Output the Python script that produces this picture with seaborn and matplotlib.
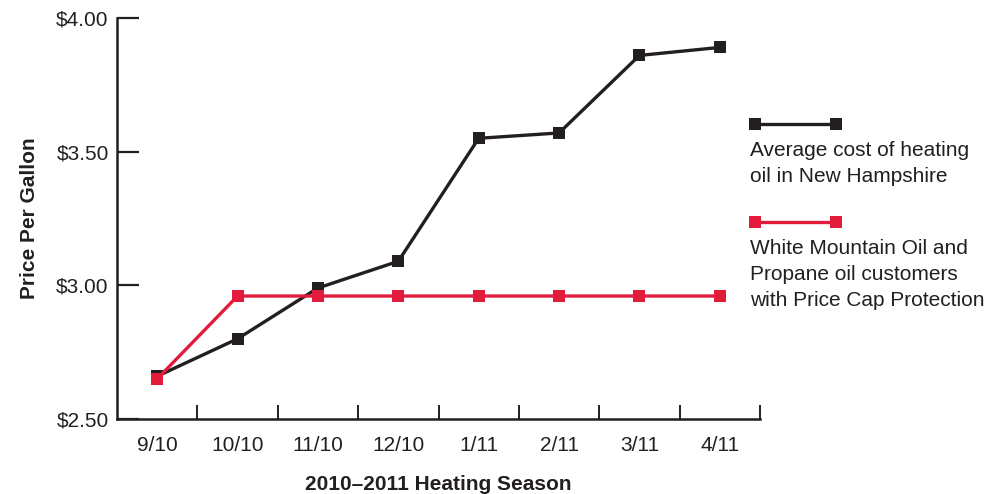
import pandas as pd
import numpy as np
import matplotlib.pyplot as plt
import seaborn as sns
from matplotlib.lines import Line2D

sns.set_style("white")
plt.rcParams['font.family'] = ['Liberation Sans', 'DejaVu Sans']

# data
months = ['9/10', '10/10', '11/10', '12/10', '1/11', '2/11', '3/11', '4/11']
nh_avg = [2.66, 2.80, 2.99, 3.09, 3.55, 3.57, 3.86, 3.89]
price_cap = [2.65, 2.96, 2.96, 2.96, 2.96, 2.96, 2.96, 2.96]
y_ticks = [2.50, 3.00, 3.50, 4.00]

black = '#231f20'
red = '#e31b3b'

df = pd.DataFrame({'pos': np.arange(len(months)), 'nh': nh_avg, 'cap': price_cap})

fig = plt.figure(figsize=(9.87, 4.94), dpi=100)
ax = fig.add_axes([117 / 987, 1 - 419 / 494, (760 - 117) / 987, (419 - 18) / 494])

sns.lineplot(data=df, x='pos', y='nh', ax=ax, color=black, linewidth=2.4,
             marker='s', markersize=8.5, markeredgewidth=0)
sns.lineplot(data=df, x='pos', y='cap', ax=ax, color=red, linewidth=2.4,
             marker='s', markersize=8.5, markeredgewidth=0)

ax.set_xlim(-0.5, len(months) - 0.5)
ax.set_ylim(2.50, 4.00)
ax.set_yticks(y_ticks)
ax.set_yticklabels(['${:.2f}'.format(v) for v in y_ticks])
ax.set_xticks(np.arange(len(months)))
ax.set_xticklabels(months)
ax.set_xticks(np.arange(len(months)) + 0.5, minor=True)

ax.tick_params(axis='y', left=True, direction='in', length=16, width=1.6, color=black,
               labelsize=15, labelcolor=black, pad=6)
ax.tick_params(axis='x', which='major', bottom=False, length=0, labelsize=15,
               labelcolor=black, pad=12)
ax.tick_params(axis='x', which='minor', bottom=True, direction='in', length=10,
               width=1.4, color=black)

for side in ['top', 'right']:
    ax.spines[side].set_visible(False)
for side in ['left', 'bottom']:
    ax.spines[side].set_color(black)
    ax.spines[side].set_linewidth(1.8)

ax.set_xlabel('2010–2011 Heating Season', fontsize=15, fontweight='bold', color=black, labelpad=15)
ax.set_ylabel('Price Per Gallon', fontsize=15, fontweight='bold', color=black, labelpad=12)

# legend drawn at the right
def legend_glyph(y, color):
    yf = 1 - y / 494
    fig.add_artist(Line2D([755 / 987, 836 / 987], [yf, yf], color=color, linewidth=2.4,
                          marker='s', markersize=8.5, markeredgewidth=0))

legend_glyph(124, black)
fig.text(750 / 987, 1 - 141 / 494, 'Average cost of heating\noil in New Hampshire',
         fontsize=15, color=black, va='top', ha='left', linespacing=1.48)
legend_glyph(222, red)
fig.text(750 / 987, 1 - 239 / 494,
         'White Mountain Oil and\nPropane oil customers\nwith Price Cap Protection',
         fontsize=15, color=black, va='top', ha='left', linespacing=1.48)

fig.savefig('out.png', dpi=100)
